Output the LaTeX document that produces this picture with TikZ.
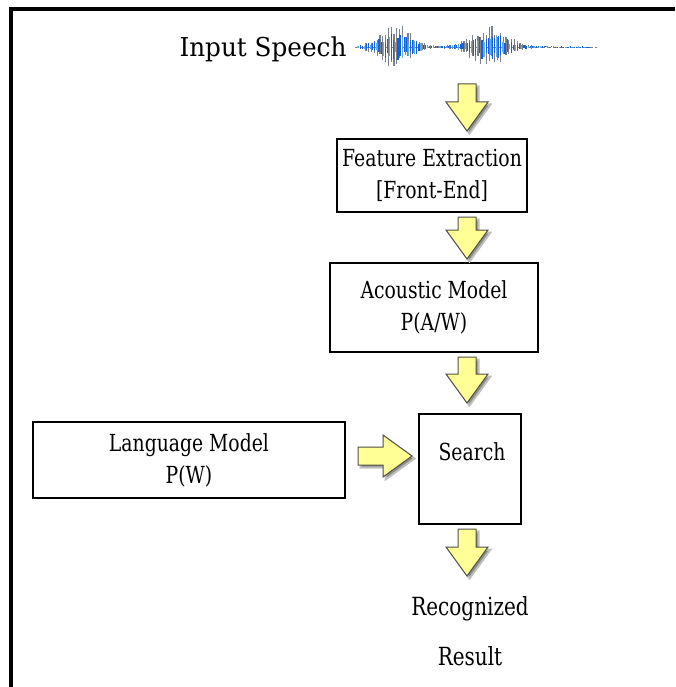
\documentclass[tikz,border=0pt]{standalone}
\usepackage{fontspec}
\setmainfont{DejaVu Serif}[FakeStretch=0.8]
\newfontfamily\speechfont{DejaVu Serif}[FakeStretch=0.95]
\usetikzlibrary{calc}
\definecolor{arrowfill}{RGB}{255,255,150}
\definecolor{arrowline}{RGB}{80,80,70}
\definecolor{waveblue}{RGB}{25,95,215}
\definecolor{wavelight}{RGB}{95,175,225}
\definecolor{wavegray}{RGB}{120,130,140}
\begin{document}
\begin{tikzpicture}[x=1pt,y=-1pt,
  every node/.style={font=\fontsize{23.5}{32}\selectfont, inner sep=0pt},
  box/.style={draw=black, line width=1.3pt, align=center},
  % block arrow from start to target: shaft 18pt, head 42pt wide, 29pt long
  fatarrow/.style={to path={
     ($(\tikztostart)!9pt!90:(\tikztotarget)$)
     -- ($(\tikztotarget)!29pt!(\tikztostart)!9pt!90:(\tikztotarget)$)
     -- ($(\tikztotarget)!29pt!(\tikztostart)!21pt!90:(\tikztotarget)$)
     -- (\tikztotarget)
     -- ($(\tikztotarget)!29pt!(\tikztostart)!21pt!-90:(\tikztotarget)$)
     -- ($(\tikztotarget)!29pt!(\tikztostart)!9pt!-90:(\tikztotarget)$)
     -- ($(\tikztostart)!9pt!-90:(\tikztotarget)$)
     -- cycle}},
  arrowbody/.style={fatarrow, fill=arrowfill, draw=arrowline, line width=1pt, line join=miter},
  arrowshadow/.style={fatarrow, fill=black!45, draw=black!25, line width=2pt,
     transform canvas={xshift=2.5pt,yshift=-2.5pt}},
  outlabel/.style={font=\fontsize{25}{30}\selectfont},
]
\useasboundingbox (0,0) rectangle (675,687);

% open frame: left and top rules
\draw[line width=4pt] (11,687) -- (11,9) -- (675,9);

% input label and speech waveform
\node[font=\speechfont\fontsize{26}{30}\selectfont] (speech) at (263,49) {Input Speech};
\pgfmathsetseed{11}
\draw[wavegray, line width=0.8pt, dash pattern=on 4pt off 2pt] (355,47) -- (597,47);
\foreach \i in {0,...,60} {
  \pgfmathsetmacro\xx{366+\i*2.8}
  \pgfmathsetmacro\env{23*exp(-min(((\xx-396)/22)^2,9))+22*exp(-min(((\xx-489)/24)^2,9))+1}
  \pgfmathsetmacro\up{\env*(0.45+0.55*rnd)}
  \pgfmathsetmacro\dn{\env*(0.35+0.6*rnd)}
  \draw[wavegray, line width=1.3pt] (\xx,47-\up) -- (\xx,47+\dn);
}
\foreach \i in {0,...,110} {
  \pgfmathsetmacro\xx{358+\i*2.1}
  \pgfmathsetmacro\env{16*exp(-min(((\xx-396)/22)^2,9))+15*exp(-min(((\xx-489)/24)^2,9))+0.8}
  \pgfmathsetmacro\up{\env*(0.3+0.6*rnd)}
  \pgfmathsetmacro\dn{\env*(0.3+0.6*rnd)}
  \pgfmathparse{mod(\i,3)==0 ? "wavelight" : "waveblue"}
  \draw[\pgfmathresult, line width=1.2pt] (\xx,47-\up) -- (\xx,47+\dn);
}

% processing blocks
\node[box, minimum width=190pt, minimum height=73pt] (feat) at (432,175.5)
  {Feature Extraction\\{}[Front-End]};
\node[box, minimum width=208pt, minimum height=89pt] (acoustic) at (434,307.5)
  {Acoustic Model\\P(A/W)};
\node[box, minimum width=312pt, minimum height=76pt] (lang) at (189,460)
  {Language Model\\P(W)};
\node[box, minimum width=102pt, minimum height=110pt] (search) at (470,469) {};
\node at (472,452) {Search};

% output label
\node[outlabel] (reco) at (470,609) {Recognized};
\node[outlabel] (result) at (470,656) {Result};

% block arrow end points
\coordinate (a1s) at (467,84);  \coordinate (a1e) at (467,131);
\coordinate (a2s) at (467,217); \coordinate (a2e) at (467,259);
\coordinate (a3s) at (467,357); \coordinate (a3e) at (467,403);
\coordinate (a4s) at (467,529); \coordinate (a4e) at (467,576);
\coordinate (a5s) at (358,456); \coordinate (a5e) at (412,456);

\foreach \s/\t in {a1s/a1e, a2s/a2e, a3s/a3e, a4s/a4e, a5s/a5e} {
  \path[arrowshadow] (\s) to (\t);
  \path[arrowbody] (\s) to (\t);
}
\end{tikzpicture}
\end{document}
